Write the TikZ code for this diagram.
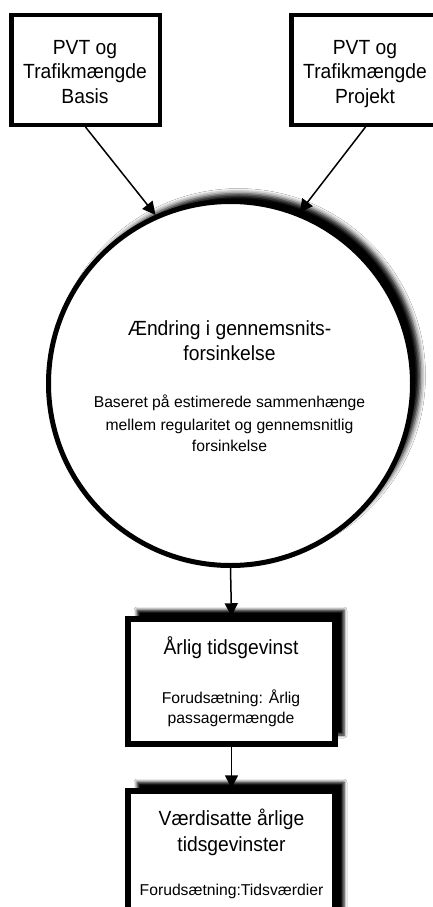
\documentclass[tikz,border=0pt]{standalone}
\usepackage{fontspec}
\setmainfont{Liberation Sans}
\newfontfamily\ttlfont[FakeStretch=0.94]{Liberation Sans}
\usetikzlibrary{arrows.meta,shadows.blur}
\begin{document}
\begin{tikzpicture}[x=1pt,y=-1pt,
  topbox/.style={draw,line width=4.5pt,fill=white,minimum width=148.5pt,minimum height=109.5pt,inner sep=0pt},
  shbox/.style={draw,line width=5.5pt,fill=white,minimum width=207pt,inner sep=0pt,
    blur shadow={shadow xshift=9pt,shadow yshift=9pt,shadow blur radius=3pt,shadow opacity=100}},
  bigcirc/.style={circle,draw,line width=5pt,fill=white,minimum size=364pt,inner sep=0pt,
    blur shadow={shadow xshift=8pt,shadow yshift=8pt,shadow blur radius=5pt,shadow opacity=100}},
  arr/.style={line width=1.5pt,-{Triangle[length=13pt,width=13pt]}},
  ttl/.style={anchor=base,inner sep=0pt,font=\fontsize{20.5}{24}\ttlfont},
  sml/.style={anchor=base,inner sep=0pt,font=\fontsize{15.7}{20}\selectfont}]
\useasboundingbox (0,0) rectangle (433,907);
\fill[white] (0,0) rectangle (433,907);
% shapes
\node[topbox] (basis) at (85.5,70) {};
\node[topbox] (projekt) at (365.5,70) {};
\node[bigcirc] (circ) at (230.5,383.5) {};
\node[shbox,minimum height=125pt] (box3) at (231.5,681.5) {};
\node[shbox,minimum height=169pt] (box4) at (231.5,875.5) {};
% connectors
\draw[arr] (basis.south) -- (circ.114);
\draw[arr] (projekt.south) -- (circ.68.5);
\draw[arr] (circ.south) -- (box3.north);
\draw[arr] (box3.south) -- (box4.north);
% texts
\node[ttl] (b1) at (85,55) {PVT og};
\node[ttl] (b2) at (85,78.5) {Trafikmængde};
\node[ttl] (b3) at (85,103) {Basis};
\node[ttl] (p1) at (365,55) {PVT og};
\node[ttl] (p2) at (365,78.5) {Trafikmængde};
\node[ttl] (p3) at (365,103) {Projekt};
\node[ttl] (c1) at (229.5,335) {Ændring i gennemsnits-};
\node[ttl] (c2) at (229.5,360) {forsinkelse};
\node[sml] (c3) at (229.5,407) {Baseret på estimerede sammenhænge};
\node[sml] (c4) at (229.5,430) {mellem regularitet og gennemsnitlig};
\node[sml] (c5) at (229.5,451) {forsinkelse};
\node[ttl] (t1) at (231,654) {Årlig tidsgevinst};
\node[sml] (t2) at (231,703) {Forudsætning: Årlig};
\node[sml] (t3) at (231,723) {passagermængde};
\node[ttl] (v1) at (231.5,825) {Værdisatte årlige};
\node[ttl] (v2) at (231.5,851) {tidsgevinster};
\node[sml] (v3) at (231.5,895) {Forudsætning:Tidsværdier};
\end{tikzpicture}
\end{document}
